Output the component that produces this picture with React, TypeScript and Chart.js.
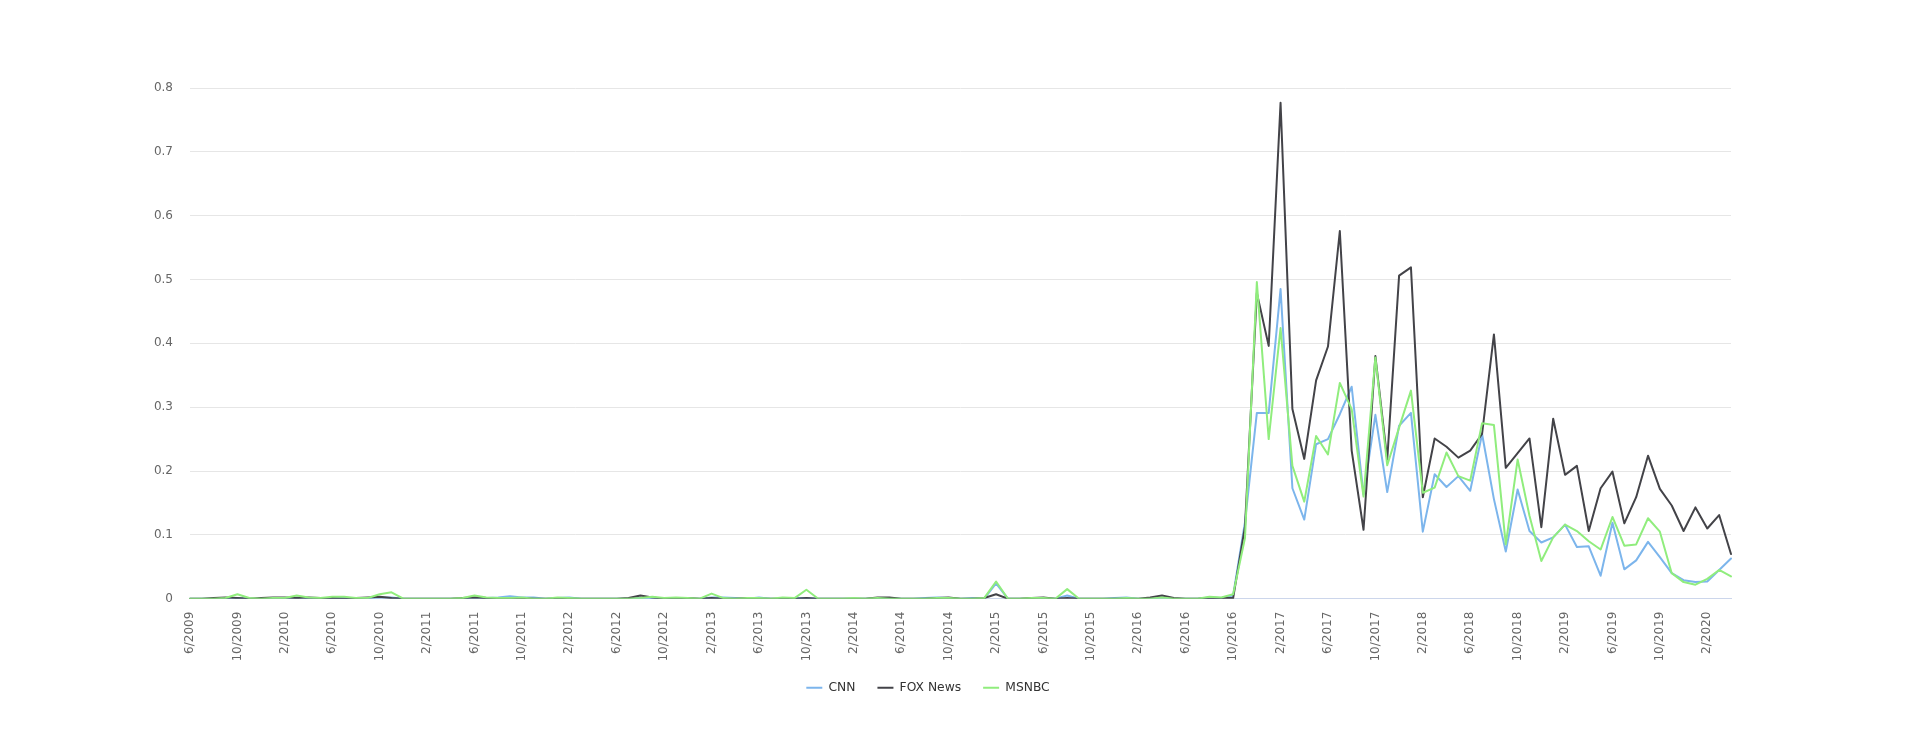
import React, { useEffect, useRef } from "react";
import { Chart, registerables } from "chart.js";

Chart.register(...registerables);

const months: string[] = [
  "6/2009", "7/2009", "8/2009", "9/2009", "10/2009", "11/2009", "12/2009",
  "1/2010", "2/2010", "3/2010", "4/2010", "5/2010", "6/2010", "7/2010", "8/2010", "9/2010", "10/2010", "11/2010", "12/2010",
  "1/2011", "2/2011", "3/2011", "4/2011", "5/2011", "6/2011", "7/2011", "8/2011", "9/2011", "10/2011", "11/2011", "12/2011",
  "1/2012", "2/2012", "3/2012", "4/2012", "5/2012", "6/2012", "7/2012", "8/2012", "9/2012", "10/2012", "11/2012", "12/2012",
  "1/2013", "2/2013", "3/2013", "4/2013", "5/2013", "6/2013", "7/2013", "8/2013", "9/2013", "10/2013", "11/2013", "12/2013",
  "1/2014", "2/2014", "3/2014", "4/2014", "5/2014", "6/2014", "7/2014", "8/2014", "9/2014", "10/2014", "11/2014", "12/2014",
  "1/2015", "2/2015", "3/2015", "4/2015", "5/2015", "6/2015", "7/2015", "8/2015", "9/2015", "10/2015", "11/2015", "12/2015",
  "1/2016", "2/2016", "3/2016", "4/2016", "5/2016", "6/2016", "7/2016", "8/2016", "9/2016", "10/2016", "11/2016", "12/2016",
  "1/2017", "2/2017", "3/2017", "4/2017", "5/2017", "6/2017", "7/2017", "8/2017", "9/2017", "10/2017", "11/2017", "12/2017",
  "1/2018", "2/2018", "3/2018", "4/2018", "5/2018", "6/2018", "7/2018", "8/2018", "9/2018", "10/2018", "11/2018", "12/2018",
  "1/2019", "2/2019", "3/2019", "4/2019", "5/2019", "6/2019", "7/2019", "8/2019", "9/2019", "10/2019", "11/2019", "12/2019",
  "1/2020", "2/2020", "3/2020", "4/2020",
];

const cnn: number[] = [
  0, 0, 0, 0.001, 0.001, 0, 0, 0.001, 0.001, 0.002,
  0.001, 0, 0.001, 0.001, 0, 0.001, 0.002, 0.002, 0, 0,
  0, 0, 0, 0, 0.002, 0.001, 0.002, 0.004, 0.002, 0.002,
  0, 0.001, 0.002, 0, 0, 0, 0, 0, 0.001, 0.001,
  0, 0.001, 0, 0, 0.002, 0.002, 0.001, 0, 0.002, 0,
  0, 0.001, 0.001, 0, 0, 0, 0, 0, 0.001, 0.001,
  0, 0, 0.001, 0.002, 0.001, 0, 0.001, 0, 0.024, 0,
  0, 0, 0.001, 0, 0.005, 0, 0, 0, 0.001, 0.002,
  0, 0, 0.002, 0, 0, 0, 0.002, 0.001, 0.005, 0.12,
  0.291, 0.291, 0.485, 0.173, 0.124, 0.242, 0.25, 0.289, 0.332, 0.163,
  0.288, 0.167, 0.271, 0.291, 0.105, 0.195, 0.175, 0.192, 0.169, 0.258,
  0.156, 0.074, 0.171, 0.106, 0.088, 0.096, 0.116, 0.081, 0.082, 0.036,
  0.119, 0.046, 0.06, 0.089, 0.065, 0.04, 0.029, 0.026, 0.027, 0.045,
  0.063,
];

const foxNews: number[] = [
  0, 0, 0.001, 0.002, 0.001, 0, 0.001, 0.002, 0.002, 0.001,
  0.002, 0.001, 0.001, 0, 0.001, 0.002, 0.003, 0.001, 0, 0,
  0, 0, 0, 0.001, 0.002, 0.001, 0.001, 0, 0.001, 0,
  0, 0, 0, 0, 0, 0, 0, 0.001, 0.005, 0.002,
  0, 0.001, 0.001, 0, 0.001, 0, 0, 0.001, 0, 0,
  0, 0, 0.001, 0, 0, 0, 0, 0, 0.002, 0.002,
  0, 0, 0, 0.001, 0.002, 0, 0, 0.001, 0.007, 0,
  0, 0.001, 0.002, 0, 0.001, 0, 0, 0, 0, 0,
  0, 0.002, 0.005, 0.001, 0, 0, 0.001, 0.001, 0.001, 0.113,
  0.479, 0.396, 0.777, 0.297, 0.219, 0.342, 0.395, 0.576, 0.232, 0.108,
  0.38, 0.218, 0.506, 0.519, 0.159, 0.251, 0.238, 0.221, 0.232, 0.258,
  0.414, 0.205, 0.228, 0.251, 0.112, 0.282, 0.194, 0.208, 0.106, 0.173,
  0.199, 0.118, 0.159, 0.224, 0.172, 0.146, 0.106, 0.143, 0.11, 0.131,
  0.07,
];

const msnbc: number[] = [
  0, 0, 0, 0.001, 0.007, 0.001, 0, 0.001, 0.001, 0.005,
  0.002, 0.001, 0.003, 0.003, 0.001, 0.001, 0.007, 0.01, 0, 0,
  0, 0, 0, 0.001, 0.005, 0.002, 0.001, 0.001, 0.002, 0,
  0, 0.002, 0.001, 0, 0, 0, 0, 0, 0.001, 0.003,
  0.001, 0.002, 0.001, 0, 0.008, 0.001, 0, 0.001, 0.001, 0,
  0.002, 0.001, 0.014, 0, 0, 0, 0.001, 0, 0.001, 0,
  0, 0, 0, 0.001, 0.001, 0, 0, 0.001, 0.027, 0,
  0, 0.001, 0.001, 0, 0.015, 0, 0, 0, 0, 0.001,
  0, 0, 0.002, 0, 0, 0, 0.003, 0.002, 0.007, 0.095,
  0.496, 0.25, 0.424, 0.208, 0.152, 0.255, 0.226, 0.338, 0.297, 0.16,
  0.378, 0.209, 0.268, 0.326, 0.166, 0.174, 0.229, 0.192, 0.185, 0.275,
  0.272, 0.085, 0.218, 0.13, 0.059, 0.096, 0.116, 0.106, 0.09, 0.077,
  0.128, 0.083, 0.085, 0.126, 0.105, 0.04, 0.026, 0.022, 0.031, 0.045,
  0.035,
];

const seriesNames = ["CNN", "FOX News", "MSNBC"];
const seriesColors = ["#7cb5ec", "#434348", "#90ed7d"];
const yMin = 0;
const yMax = 0.8;
const yStep = 0.1;
const labelEvery = 4;

export default function App() {
  const canvasRef = useRef<HTMLCanvasElement>(null);

  useEffect(() => {
    if (!canvasRef.current) return;
    const values = [cnn, foxNews, msnbc];
    const font = "'DejaVu Sans', 'Lucida Grande', Arial, sans-serif";
    const chart = new Chart(canvasRef.current, {
      type: "line",
      data: {
        labels: months,
        datasets: values.map((v, i) => ({
          label: seriesNames[i],
          data: v,
          borderColor: seriesColors[i],
          backgroundColor: seriesColors[i],
          borderWidth: 2,
          pointRadius: 0,
          pointHoverRadius: 0,
          tension: 0,
          fill: false,
          borderJoinStyle: "round" as const,
          borderCapStyle: "round" as const,
          order: values.length - i,
          pointStyle: "line" as const,
        })),
      },
      options: {
        animation: false,
        responsive: true,
        maintainAspectRatio: false,
        layout: { padding: { top: 80, left: 117, right: 117, bottom: 28 } },
        plugins: {
          tooltip: { enabled: false },
          legend: {
            position: "bottom",
            labels: {
              usePointStyle: true,
              pointStyle: "line",
              pointStyleWidth: 16,
              padding: 22,
              color: "#333333",
              font: { family: font, size: 12.3 },
              sort: (a: any, b: any) => a.datasetIndex - b.datasetIndex,
            },
          },
        },
        scales: {
          x: {
            type: "category",
            grid: { display: false, drawTicks: false },
            border: { display: true, color: "#ccd6eb", width: 1 },
            ticks: {
              autoSkip: false,
              minRotation: 90,
              maxRotation: 90,
              padding: 13,
              color: "#666666",
              font: { family: font, size: 12 },
              callback: function (this: any, value: any, index: number) {
                return index % labelEvery === 0 ? this.getLabelForValue(value) : "";
              },
            },
            afterFit: (scale: any) => {
              scale.height = 61;
            },
          },
          y: {
            min: yMin,
            max: yMax,
            grid: {
              drawTicks: false,
              color: (ctx: any) => (ctx.tick && ctx.tick.value === 0 ? "#ccd6eb" : "#e6e6e6"),
              lineWidth: 1,
            },
            border: { display: false },
            ticks: {
              stepSize: yStep,
              padding: 17,
              color: "#666666",
              font: { family: font, size: 12 },
              callback: (value: any) => String(Number(Number(value).toFixed(1))),
            },
            afterFit: (scale: any) => {
              scale.width = 65;
            },
          },
        },
      },
    });
    return () => chart.destroy();
  }, []);

  return (
    <div style={{ width: 1840, height: 724, position: "relative" }}>
      <canvas ref={canvasRef} />
    </div>
  );
}
